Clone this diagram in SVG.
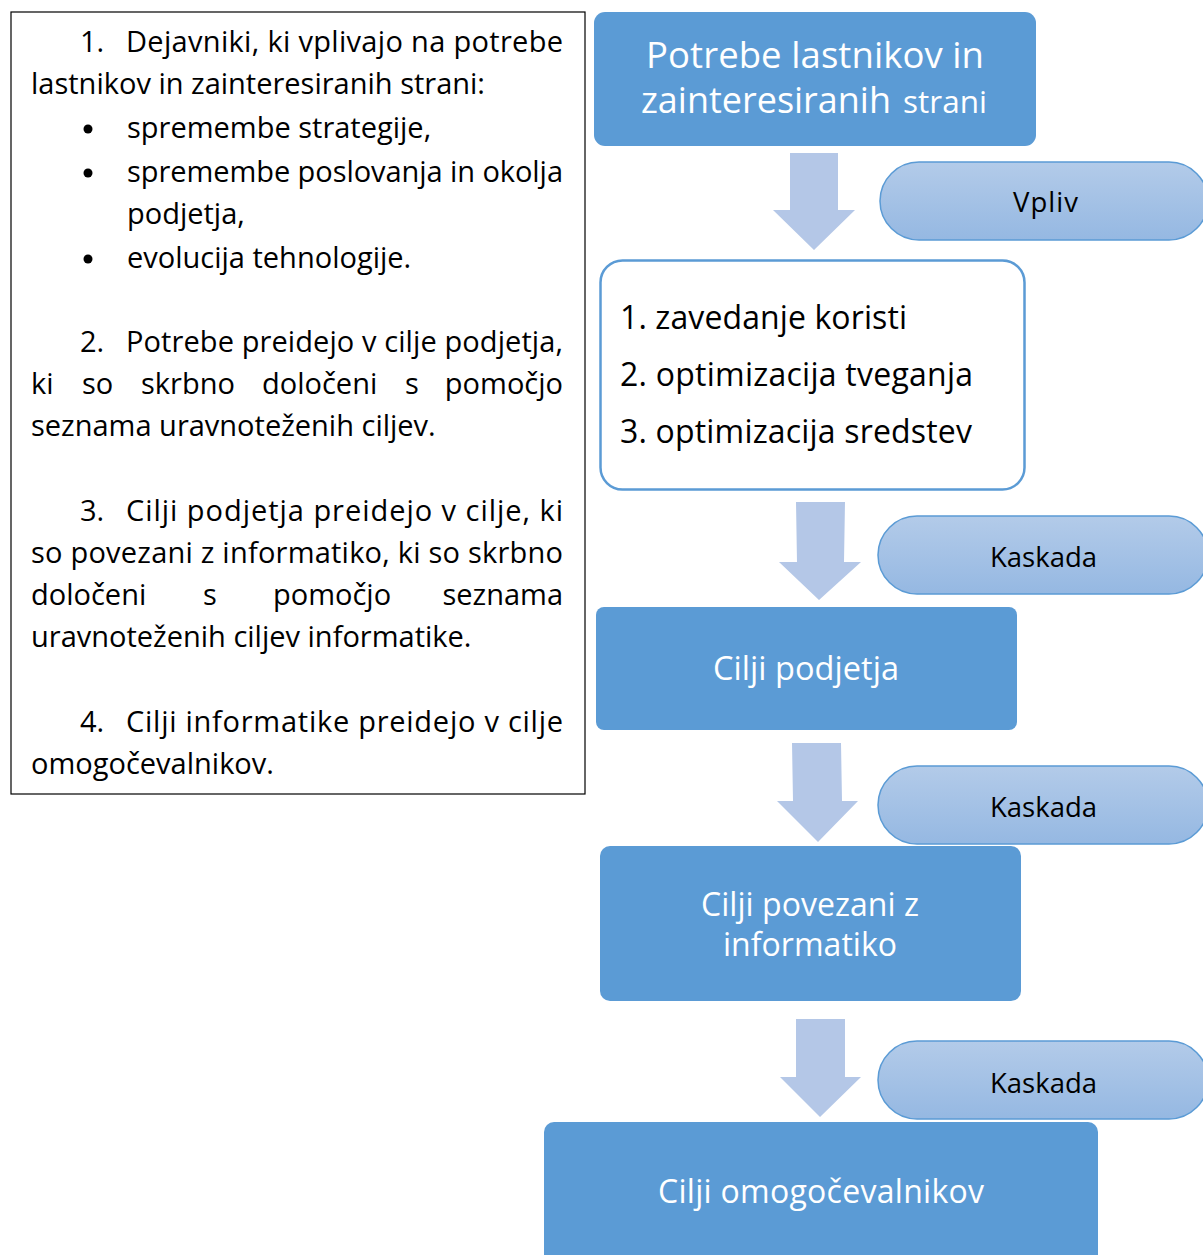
<svg xmlns="http://www.w3.org/2000/svg" width="1203" height="1255" viewBox="0 0 1203 1255">
  <style>
    .t { font-family: "Open Sans", "Liberation Sans", sans-serif; fill: #000; }
    .body { font-size: 29px; }
    .w { fill: #fff; font-family: "Open Sans", "Liberation Sans", sans-serif; }
    .blue { fill: #5B9BD5; }
    .arrow { fill: #B4C7E7; }
    .pill { fill: url(#pillGrad); stroke: #5B9BD5; stroke-width: 1.5; }
    .lbl { font-family: "Open Sans", "Liberation Sans", sans-serif; font-size: 27.5px; fill: #000; }
  </style>
  <defs>
    <linearGradient id="pillGrad" x1="0" y1="0" x2="0" y2="1">
      <stop offset="0" stop-color="#B3CBE9"/>
      <stop offset="1" stop-color="#95B8E2"/>
    </linearGradient>
  </defs>
  <rect width="1203" height="1255" fill="#fff"/>

  <!-- explanatory text panel -->
  <g id="notes">
    <rect x="11" y="12" width="574" height="782" fill="#fff" stroke="#000" stroke-width="1.2"/>
    <g class="t body">
      <text x="80" y="52">1.</text>
      <text x="126" y="52" textLength="437" lengthAdjust="spacing">Dejavniki, ki vplivajo na potrebe</text>
      <text x="31" y="94">lastnikov in zainteresiranih strani:</text>
      <circle cx="88" cy="129" r="4.5"/>
      <text x="127" y="138">spremembe strategije,</text>
      <circle cx="88" cy="173" r="4.5"/>
      <text x="127" y="182" textLength="436" lengthAdjust="spacing">spremembe poslovanja in okolja</text>
      <text x="127" y="224">podjetja,</text>
      <circle cx="88" cy="259" r="4.5"/>
      <text x="127" y="268">evolucija tehnologije.</text>

      <text x="80" y="352">2.</text>
      <text x="126" y="352" textLength="437" lengthAdjust="spacing">Potrebe preidejo v cilje podjetja,</text>
      <text x="31" y="394">ki</text>
      <text x="82" y="394">so</text>
      <text x="141" y="394">skrbno</text>
      <text x="262" y="394">določeni</text>
      <text x="405" y="394">s</text>
      <text x="563" y="394" text-anchor="end">pomočjo</text>
      <text x="31" y="436">seznama uravnoteženih ciljev.</text>

      <text x="80" y="521">3.</text>
      <text x="126" y="521" textLength="437" lengthAdjust="spacing">Cilji podjetja preidejo v cilje, ki</text>
      <text x="31" y="563" textLength="532" lengthAdjust="spacing">so povezani z informatiko, ki so skrbno</text>
      <text x="31" y="605">določeni</text>
      <text x="203" y="605">s</text>
      <text x="273" y="605">pomočjo</text>
      <text x="563" y="605" text-anchor="end">seznama</text>
      <text x="31" y="647">uravnoteženih ciljev informatike.</text>

      <text x="80" y="732">4.</text>
      <text x="126" y="732" textLength="437" lengthAdjust="spacing">Cilji informatike preidejo v cilje</text>
      <text x="31" y="774">omogočevalnikov.</text>
    </g>
  </g>

  <!-- block arrows between the stages -->
  <g id="connectors">
    <path class="arrow" d="M790 153 H838 V210 H855 L814 250 L773 210 H790 Z"/>
    <path class="arrow" d="M796 502 H845 L844 562 H861 L819 600 L779 562 H797 Z"/>
    <path class="arrow" d="M792 743 H841 L842 801 H858 L818 842 L777 801 H793 Z"/>
    <path class="arrow" d="M796 1019 H845 V1077 H861 L820 1117 L780 1077 H796 Z"/>
  </g>

  <g id="node-potrebe">
    <rect class="blue" x="594" y="12" width="442" height="134" rx="11"/>
    <text class="w" x="646" y="68" font-size="36.5" textLength="338" lengthAdjust="spacing">Potrebe lastnikov in</text>
    <text class="w" x="641" y="113" font-size="36" textLength="250" lengthAdjust="spacing">zainteresiranih</text>
    <text class="w" x="903" y="113" font-size="31.5" textLength="84" lengthAdjust="spacing">strani</text>
  </g>

  <g id="pill-vpliv">
    <rect class="pill" x="880" y="162" width="328" height="78" rx="39"/>
    <text class="lbl" x="1013" y="212" textLength="65" lengthAdjust="spacing">Vpliv</text>
  </g>

  <g id="node-list">
    <rect x="600.5" y="260.5" width="424" height="229" rx="22" fill="#fff" stroke="#5B9BD5" stroke-width="2.5"/>
    <text class="t" x="620" y="329" font-size="32" textLength="287" lengthAdjust="spacing">1. zavedanje koristi</text>
    <text class="t" x="620" y="386" font-size="32" textLength="353" lengthAdjust="spacing">2. optimizacija tveganja</text>
    <text class="t" x="620" y="443" font-size="32" textLength="352" lengthAdjust="spacing">3. optimizacija sredstev</text>
  </g>

  <g id="pill-kaskada-1">
    <rect class="pill" x="878" y="516" width="330" height="78" rx="39"/>
    <text class="lbl" x="990" y="567" textLength="107" lengthAdjust="spacing">Kaskada</text>
  </g>

  <g id="node-cilji-podjetja">
    <rect class="blue" x="596" y="607" width="421" height="123" rx="8"/>
    <text class="w" x="713" y="680" font-size="32.5" textLength="186" lengthAdjust="spacing">Cilji podjetja</text>
  </g>

  <g id="pill-kaskada-2">
    <rect class="pill" x="878" y="766" width="330" height="78" rx="39"/>
    <text class="lbl" x="990" y="817" textLength="107" lengthAdjust="spacing">Kaskada</text>
  </g>

  <g id="node-cilji-informatika">
    <rect class="blue" x="600" y="846" width="421" height="155" rx="10"/>
    <text class="w" x="701" y="916" font-size="32" textLength="218" lengthAdjust="spacing">Cilji povezani z</text>
    <text class="w" x="723" y="956" font-size="32" textLength="174" lengthAdjust="spacing">informatiko</text>
  </g>

  <g id="pill-kaskada-3">
    <rect class="pill" x="878" y="1041" width="330" height="78" rx="39"/>
    <text class="lbl" x="990" y="1093" textLength="107" lengthAdjust="spacing">Kaskada</text>
  </g>

  <g id="node-cilji-omogocevalnikov">
    <rect class="blue" x="544" y="1122" width="554" height="150" rx="10"/>
    <text class="w" x="658" y="1203" font-size="32" textLength="326" lengthAdjust="spacing">Cilji omogočevalnikov</text>
  </g>
</svg>
